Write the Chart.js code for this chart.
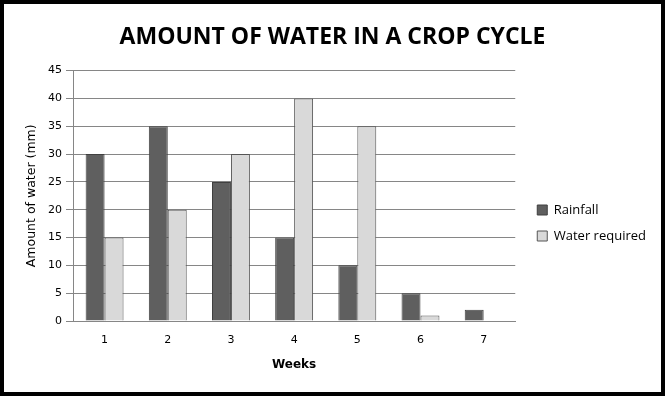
<!DOCTYPE html>
<html>
<head>
<meta charset="utf-8">
<script src="https://cdn.jsdelivr.net/npm/chart.js"></script>
<style>
  body { margin: 0; background: #fff; }
  #wrap { width: 665px; height: 396px; }
</style>
</head>
<body>
<div id="wrap"><canvas id="grafico"></canvas></div>
<script>
const semanas = ['1', '2', '3', '4', '5', '6', '7'];
const chuva = [30, 35, 25, 15, 10, 5, 2];
const aguaNecessaria = [15, 20, 30, 40, 35, 1, 0];

// moldura preta em volta da figura
const moldura = {
  id: 'moldura',
  afterLayout(chart) {
    // empurra a legenda um pouco para a direita, sem mexer na area do grafico
    chart.legend.left += 9;
    chart.legend.right += 9;
  },
  afterDraw(chart) {
    const ctx = chart.ctx;
    ctx.save();
    ctx.strokeStyle = '#000';
    ctx.lineWidth = 4;
    ctx.strokeRect(2, 2, chart.width - 4, chart.height - 4);
    ctx.restore();
  }
};

new Chart(document.getElementById('grafico').getContext('2d'), {
  type: 'bar',
  data: {
    labels: semanas,
    datasets: [{
      label: 'Rainfall',
      data: chuva,
      backgroundColor: '#5f5f5f',
      borderColor: '#404040',
      borderWidth: 1,
      barPercentage: 1,
      categoryPercentage: 0.6
    }, {
      label: 'Water required',
      data: aguaNecessaria,
      backgroundColor: '#d9d9d9',
      borderColor: '#555555',
      borderWidth: 1,
      barPercentage: 1,
      categoryPercentage: 0.6
    }]
  },
  options: {
    responsive: true,
    maintainAspectRatio: false,
    animation: false,
    layout: { padding: { left: 18, right: 18, top: 0, bottom: 22 } },
    scales: {
      x: {
        grid: { display: false, drawTicks: false },
        border: { color: '#868686', width: 1 },
        ticks: { color: '#000', font: { family: 'DejaVu Sans', size: 11 }, padding: 13 },
        title: { display: true, text: 'Weeks', color: '#000', font: { family: 'DejaVu Sans', size: 12, weight: 'bold' }, padding: { top: 4, bottom: 2 } },
        afterFit(scale) { scale.height = 53; }
      },
      y: {
        min: 0,
        max: 45,
        ticks: { stepSize: 5, color: '#000', font: { family: 'DejaVu Sans', size: 11 }, padding: 4 },
        grid: { color: '#868686', tickLength: 7 },
        border: { color: '#868686', width: 1 },
        title: { display: true, text: 'Amount of water (mm)', color: '#000', font: { family: 'DejaVu Sans', size: 12.5 }, padding: { top: 6, bottom: 0 } },
        afterFit(scale) { scale.width = 55; }
      }
    },
    plugins: {
      title: {
        display: true,
        text: 'AMOUNT OF WATER IN A CROP CYCLE',
        color: '#000',
        font: { family: 'Open Sans', size: 23, weight: 'bold' },
        padding: { top: 24, bottom: 19 }
      },
      legend: {
        position: 'right',
        fullSize: false,
        title: { display: true, text: ' ', padding: { top: 20, bottom: 20 }, font: { size: 12 } },
        labels: {
          boxWidth: 10,
          boxHeight: 10,
          color: '#000',
          padding: 13,
          font: { family: 'Open Sans', size: 13 }
        }
      },
      tooltip: { enabled: false }
    }
  },
  plugins: [moldura]
});
</script>
</body>
</html>
